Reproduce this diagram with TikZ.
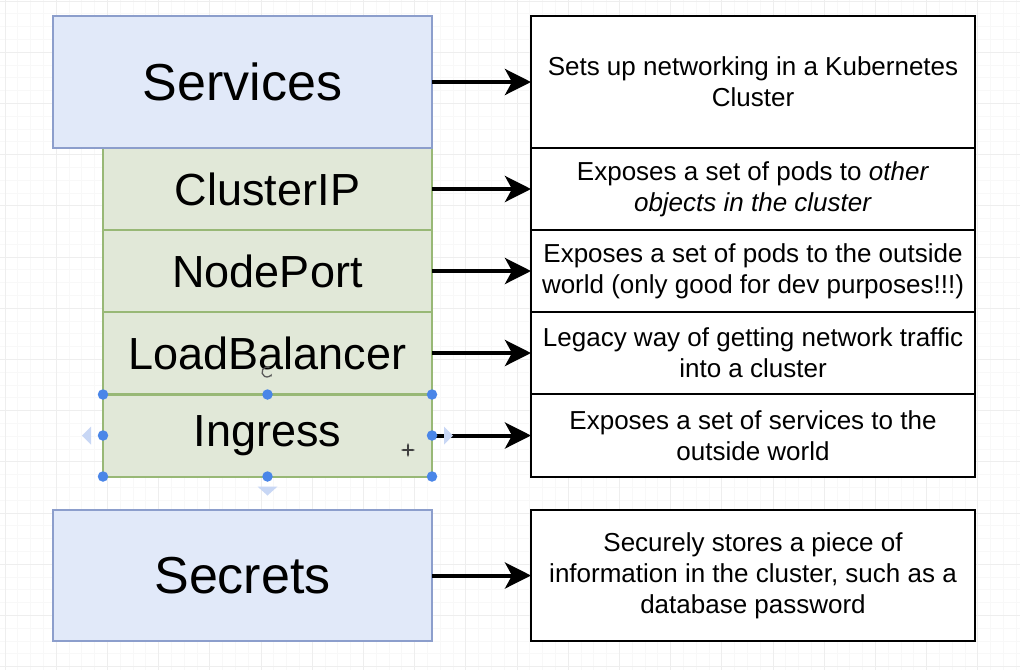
\documentclass[tikz,border=0pt]{standalone}
\usepackage{fontspec}
\setmainfont{Liberation Sans}
\usetikzlibrary{arrows.meta}
\definecolor{svcfill}{RGB}{225,233,249}
\definecolor{svcline}{RGB}{140,158,204}
\definecolor{typefill}{RGB}{225,232,216}
\definecolor{typeline}{RGB}{152,184,118}
\definecolor{gridmajor}{RGB}{238,238,238}
\definecolor{gridminor}{RGB}{248,248,248}
\definecolor{handle}{RGB}{74,134,232}
\definecolor{hint}{RGB}{200,215,245}
\tikzset{
  x=1pt, y=-1pt,
  mainbox/.style={draw=svcline, fill=svcfill, line width=2pt, outer sep=0pt,
    minimum width=379pt, font=\fontsize{52}{60}\selectfont},
  typebox/.style={draw=typeline, fill=typefill, line width=2pt, outer sep=0pt,
    minimum width=329pt, minimum height=82pt, font=\fontsize{45}{52}\selectfont},
  descbox/.style={draw=black, fill=white, line width=2.8pt, outer sep=0pt,
    minimum width=444pt, align=center, font=\fontsize{26}{31}\selectfont},
  link/.style={line width=4pt, -{Stealth[length=26pt, width=26pt, inset=7pt]}},
  grip/.style={circle, fill=handle, inner sep=0pt, minimum size=10.5pt},
  hinttri/.style={fill=hint, draw=none}
}
\begin{document}
\begin{tikzpicture}
\useasboundingbox (0,0) rectangle (1020,670);
% background grid
\fill[white] (0,0) rectangle (1020,670);
\foreach \i in {0,...,80} {
  \draw[gridminor, line width=0.7pt] (5+12.8*\i,0) -- (5+12.8*\i,670);
}
\foreach \i in {0,...,53} {
  \draw[gridminor, line width=0.7pt] (0,1+12.8*\i) -- (1020,1+12.8*\i);
}
\foreach \i in {0,...,20} {
  \draw[gridmajor, line width=0.9pt] (5+51.2*\i,0) -- (5+51.2*\i,670);
}
\foreach \i in {0,...,13} {
  \draw[gridmajor, line width=0.9pt] (0,1+51.2*\i) -- (1020,1+51.2*\i);
}

% object type stack
\node[typebox] (cip) at (267.5,189) {ClusterIP};
\node[typebox] (np)  at (267.5,271) {NodePort};
\node[typebox] (lb)  at (267.5,353) {LoadBalancer};
\node[typebox] (ing) at (267.5,435.5) {Ingress};
\node[mainbox, minimum height=132pt] (svc) at (242.5,82) {Services};
\node[mainbox, minimum height=131pt] (sec) at (242.5,575.5) {Secrets};

% descriptions
\node[descbox, minimum height=132pt] (dsvc) at (753,82)
  {Sets up networking in a Kubernetes\\Cluster};
\node[descbox, minimum height=82pt] (dcip) at (753,189)
  {Exposes a set of pods to \textit{other}\\\textit{objects in the cluster}};
\node[descbox, minimum height=82pt] (dnp) at (753,271)
  {Exposes a set of pods to the outside\\world (only good for dev purposes!!!)};
\node[descbox, minimum height=82pt] (dlb) at (753,353)
  {Legacy way of getting network traffic\\into a cluster};
\node[descbox, minimum height=83pt] (ding) at (753,435.5)
  {Exposes a set of services to the\\outside world};
\node[descbox, minimum height=131pt] (dsec) at (753,575.5)
  {Securely stores a piece of\\information in the cluster, such as a\\database password};

% connectors
\draw[link] (svc.east) -- (dsvc.west);
\draw[link] (cip.east) -- (dcip.west);
\draw[link] (np.east)  -- (dnp.west);
\draw[link] (lb.east)  -- (dlb.west);
\draw[link] (ing.east) -- (ding.west);
\draw[link] (sec.east) -- (dsec.west);

% selection hints around the Ingress box
\fill[hinttri] ([xshift=-12pt]ing.west) ++(0,-9) -- ++(-9,9) -- ++(9,9) -- cycle;
\fill[hinttri] ([xshift=12pt]ing.east) ++(0,-9) -- ++(9,9) -- ++(-9,9) -- cycle;
\fill[hinttri] ([yshift=-10pt]ing.south) ++(-10,0) -- ++(20,0) -- ++(-10,9) -- cycle;
\foreach \a in {north west, north, north east, west, east, south west, south, south east}
  \node[grip] at (ing.\a) {};

% pointer glyphs
\draw[gray!70!black, line width=1.3pt, -{Stealth[length=3pt]}] (267,372) ++(60:5pt) arc (60:340:5pt);
\draw[black!75, line width=1.3pt, -{Stealth[length=3pt]}] (408,450) -- (408,443);
\draw[black!75, line width=1.3pt, -{Stealth[length=3pt]}] (408,450) -- (408,457);
\draw[black!75, line width=1.3pt, -{Stealth[length=3pt]}] (408,450) -- (401,450);
\draw[black!75, line width=1.3pt, -{Stealth[length=3pt]}] (408,450) -- (415,450);
\end{tikzpicture}
\end{document}
